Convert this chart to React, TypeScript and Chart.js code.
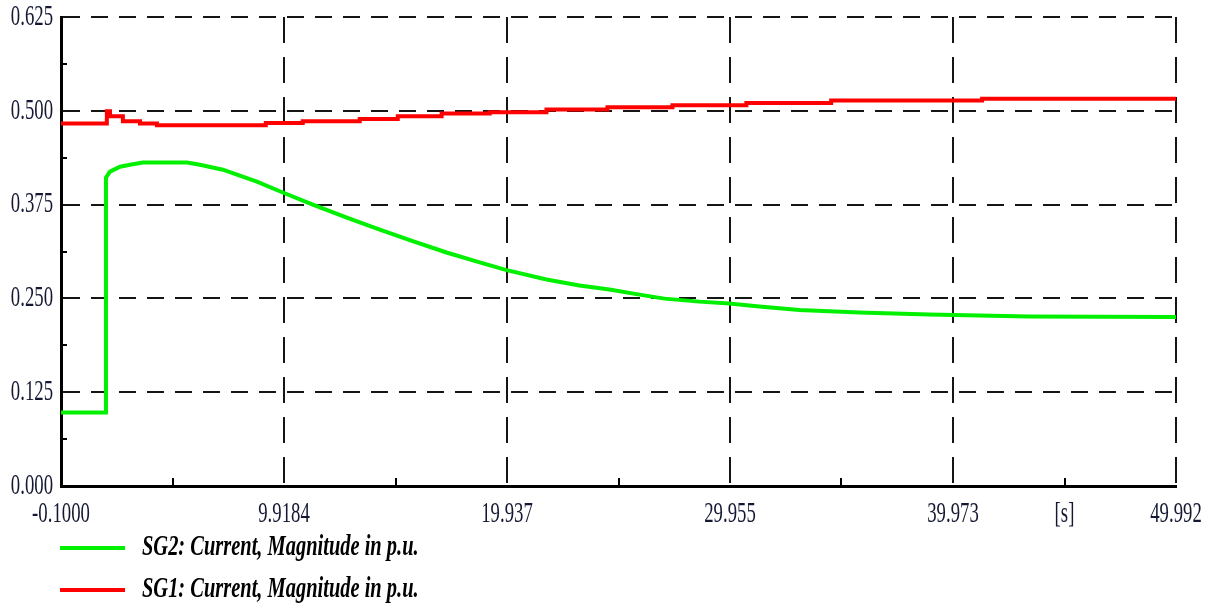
import React, { useEffect, useRef } from 'react';
import { Chart, registerables } from 'chart.js';

Chart.register(...registerables);

// ---- Data (time in s, current in p.u.) ----
const sg2Time = [
  -0.1, 1.92, 1.92, 2.1, 2.55, 3.0, 3.58, 5.56, 6.14, 7.17, 8.7, 9.73, 11.21, 12.74,
  14.22, 15.7, 17.22, 18.71, 19.92, 21.71, 23.19, 24.54, 25.89, 27.01, 28.58, 29.93,
  31.27, 33.07, 35.76, 38.9, 43.39, 49.992,
];
const sg2Current = [
  0.098, 0.098, 0.411, 0.419, 0.4255, 0.428, 0.431, 0.431, 0.428, 0.4215, 0.4055, 0.3928,
  0.3751, 0.3578, 0.3418, 0.3262, 0.3112, 0.2979, 0.2876, 0.2752, 0.2672, 0.2619, 0.255,
  0.2497, 0.2457, 0.2433, 0.2393, 0.2346, 0.2313, 0.2286, 0.226, 0.2253,
];

// SG1 is a step signal: each value holds from its time until the next one
const sg1Time = [
  -0.1, 1.96, 2.1, 2.68, 3.45, 4.21, 9.1, 10.76, 13.32, 15.03, 17.0, 19.16, 21.71,
  24.45, 27.37, 30.69, 34.5, 41.28, 49.992,
];
const sg1Current = [
  0.483, 0.4993, 0.4927, 0.486, 0.483, 0.4807, 0.4839, 0.486, 0.4892, 0.4927, 0.4963,
  0.498, 0.5016, 0.5047, 0.5073, 0.5105, 0.5136, 0.5162, 0.5162,
];

const seriesLabels = ['SG2: Current, Magnitude in p.u.', 'SG1: Current, Magnitude in p.u.'];

// ---- Axes ----
const xMin = -0.1;
const xMax = 49.992;
const xMajorTicks = [-0.1, 9.9184, 19.937, 29.955, 39.973, 49.992];
const xTickLabels = ['-0.1000', '9.9184', '19.937', '29.955', '39.973', '49.992'];
const xMinorTicks = [4.9092, 14.928, 24.946, 34.964, 44.983];
const xUnitLabel = '[s]';
const xUnitAt = 44.983;

const yMin = 0;
const yMax = 0.625;
const yMajorTicks = [0, 0.125, 0.25, 0.375, 0.5, 0.625];
const yTickLabels = ['0.000', '0.125', '0.250', '0.375', '0.500', '0.625'];
const yMinorTicks = [0.0625, 0.1875, 0.3125, 0.4375, 0.5625];

const TICK_SCALE_X = 0.625;
const LEGEND_SCALE_X = 0.705;
const TICK_COLOR = '#141832';
const TICK_FONT = '30px "Liberation Serif", "Times New Roman", serif';
const LEGEND_FONT = 'italic bold 29px "Liberation Serif", "Times New Roman", serif';

function drawScaledText(
  ctx: CanvasRenderingContext2D,
  text: string,
  x: number,
  y: number,
  font: string,
  color: string,
  align: CanvasTextAlign,
  scaleX: number
) {
  ctx.save();
  ctx.font = font;
  ctx.fillStyle = color;
  ctx.textBaseline = 'middle';
  ctx.textAlign = align;
  ctx.translate(x, y);
  ctx.scale(scaleX, 1);
  ctx.fillText(text, 0, 0);
  ctx.restore();
}

const overlayPlugin = {
  id: 'overlay',
  afterDraw(chart: any) {
    const { ctx, chartArea, scales } = chart;
    const xs = scales.x;
    const ys = scales.y;

    // minor tick marks inside the plot
    ctx.save();
    ctx.strokeStyle = '#000';
    ctx.lineWidth = 2;
    xMinorTicks.forEach((v) => {
      const px = Math.round(xs.getPixelForValue(v));
      ctx.beginPath();
      ctx.moveTo(px, chartArea.bottom);
      ctx.lineTo(px, chartArea.bottom - 8);
      ctx.stroke();
    });
    yMinorTicks.forEach((v) => {
      const py = Math.round(ys.getPixelForValue(v));
      ctx.beginPath();
      ctx.moveTo(chartArea.left, py);
      ctx.lineTo(chartArea.left + 6, py);
      ctx.stroke();
    });
    ctx.restore();

    // tick labels
    xMajorTicks.forEach((v, i) => {
      drawScaledText(ctx, xTickLabels[i], xs.getPixelForValue(v), chartArea.bottom + 28, TICK_FONT, TICK_COLOR, 'center', TICK_SCALE_X);
    });
    drawScaledText(ctx, xUnitLabel, xs.getPixelForValue(xUnitAt), chartArea.bottom + 28, TICK_FONT, TICK_COLOR, 'center', TICK_SCALE_X);
    yMajorTicks.forEach((v, i) => {
      drawScaledText(ctx, yTickLabels[i], chartArea.left - 8, ys.getPixelForValue(v), TICK_FONT, TICK_COLOR, 'right', TICK_SCALE_X);
    });

    // legend
    chart.data.datasets.forEach((ds: any, i: number) => {
      const y = chartArea.bottom + 62 + i * 42;
      ctx.save();
      ctx.strokeStyle = ds.borderColor;
      ctx.lineWidth = 4;
      ctx.beginPath();
      ctx.moveTo(chartArea.left - 1, y);
      ctx.lineTo(chartArea.left + 64, y);
      ctx.stroke();
      ctx.restore();
      drawScaledText(ctx, ds.label, chartArea.left + 81, y, LEGEND_FONT, '#000', 'left', LEGEND_SCALE_X);
    });
  },
};

export default function App() {
  const canvasRef = useRef<HTMLCanvasElement | null>(null);

  useEffect(() => {
    document.body.style.margin = '0';
    const canvas = canvasRef.current;
    if (!canvas) return;
    const chart = new Chart(canvas, {
      type: 'line',
      data: {
        datasets: [
          {
            label: seriesLabels[0],
            data: sg2Time.map((t, i) => ({ x: t, y: sg2Current[i] })),
            borderColor: '#00f000',
            borderWidth: 4,
            pointRadius: 0,
            tension: 0,
            fill: false,
          },
          {
            label: seriesLabels[1],
            data: sg1Time.map((t, i) => ({ x: t, y: sg1Current[i] })),
            borderColor: '#ff0000',
            borderWidth: 4,
            pointRadius: 0,
            stepped: 'before',
            fill: false,
          },
        ],
      },
      options: {
        animation: false,
        responsive: false,
        maintainAspectRatio: false,
        layout: { padding: { left: 61, right: 39, top: 17, bottom: 127 } },
        plugins: {
          legend: { display: false },
          tooltip: { enabled: false },
        },
        scales: {
          x: {
            type: 'linear',
            min: xMin,
            max: xMax,
            afterBuildTicks: (scale: any) => {
              scale.ticks = xMajorTicks.map((v) => ({ value: v }));
            },
            ticks: { display: false },
            grid: { color: '#151515', lineWidth: 2, drawTicks: false },
            border: { display: true, color: '#000', width: 3, dash: [26, 14] },
          },
          y: {
            type: 'linear',
            min: yMin,
            max: yMax,
            afterBuildTicks: (scale: any) => {
              scale.ticks = yMajorTicks.map((v) => ({ value: v }));
            },
            ticks: { display: false },
            grid: { color: '#151515', lineWidth: 2, drawTicks: false },
            border: { display: true, color: '#000', width: 3, dash: [17, 11] },
          },
        },
      },
      plugins: [overlayPlugin],
    } as any);
    return () => chart.destroy();
  }, []);

  return (
    <div style={{ position: 'absolute', left: 0, top: 0, width: 1215, height: 613, background: '#fff' }}>
      <canvas ref={canvasRef} width={1215} height={613} />
    </div>
  );
}
